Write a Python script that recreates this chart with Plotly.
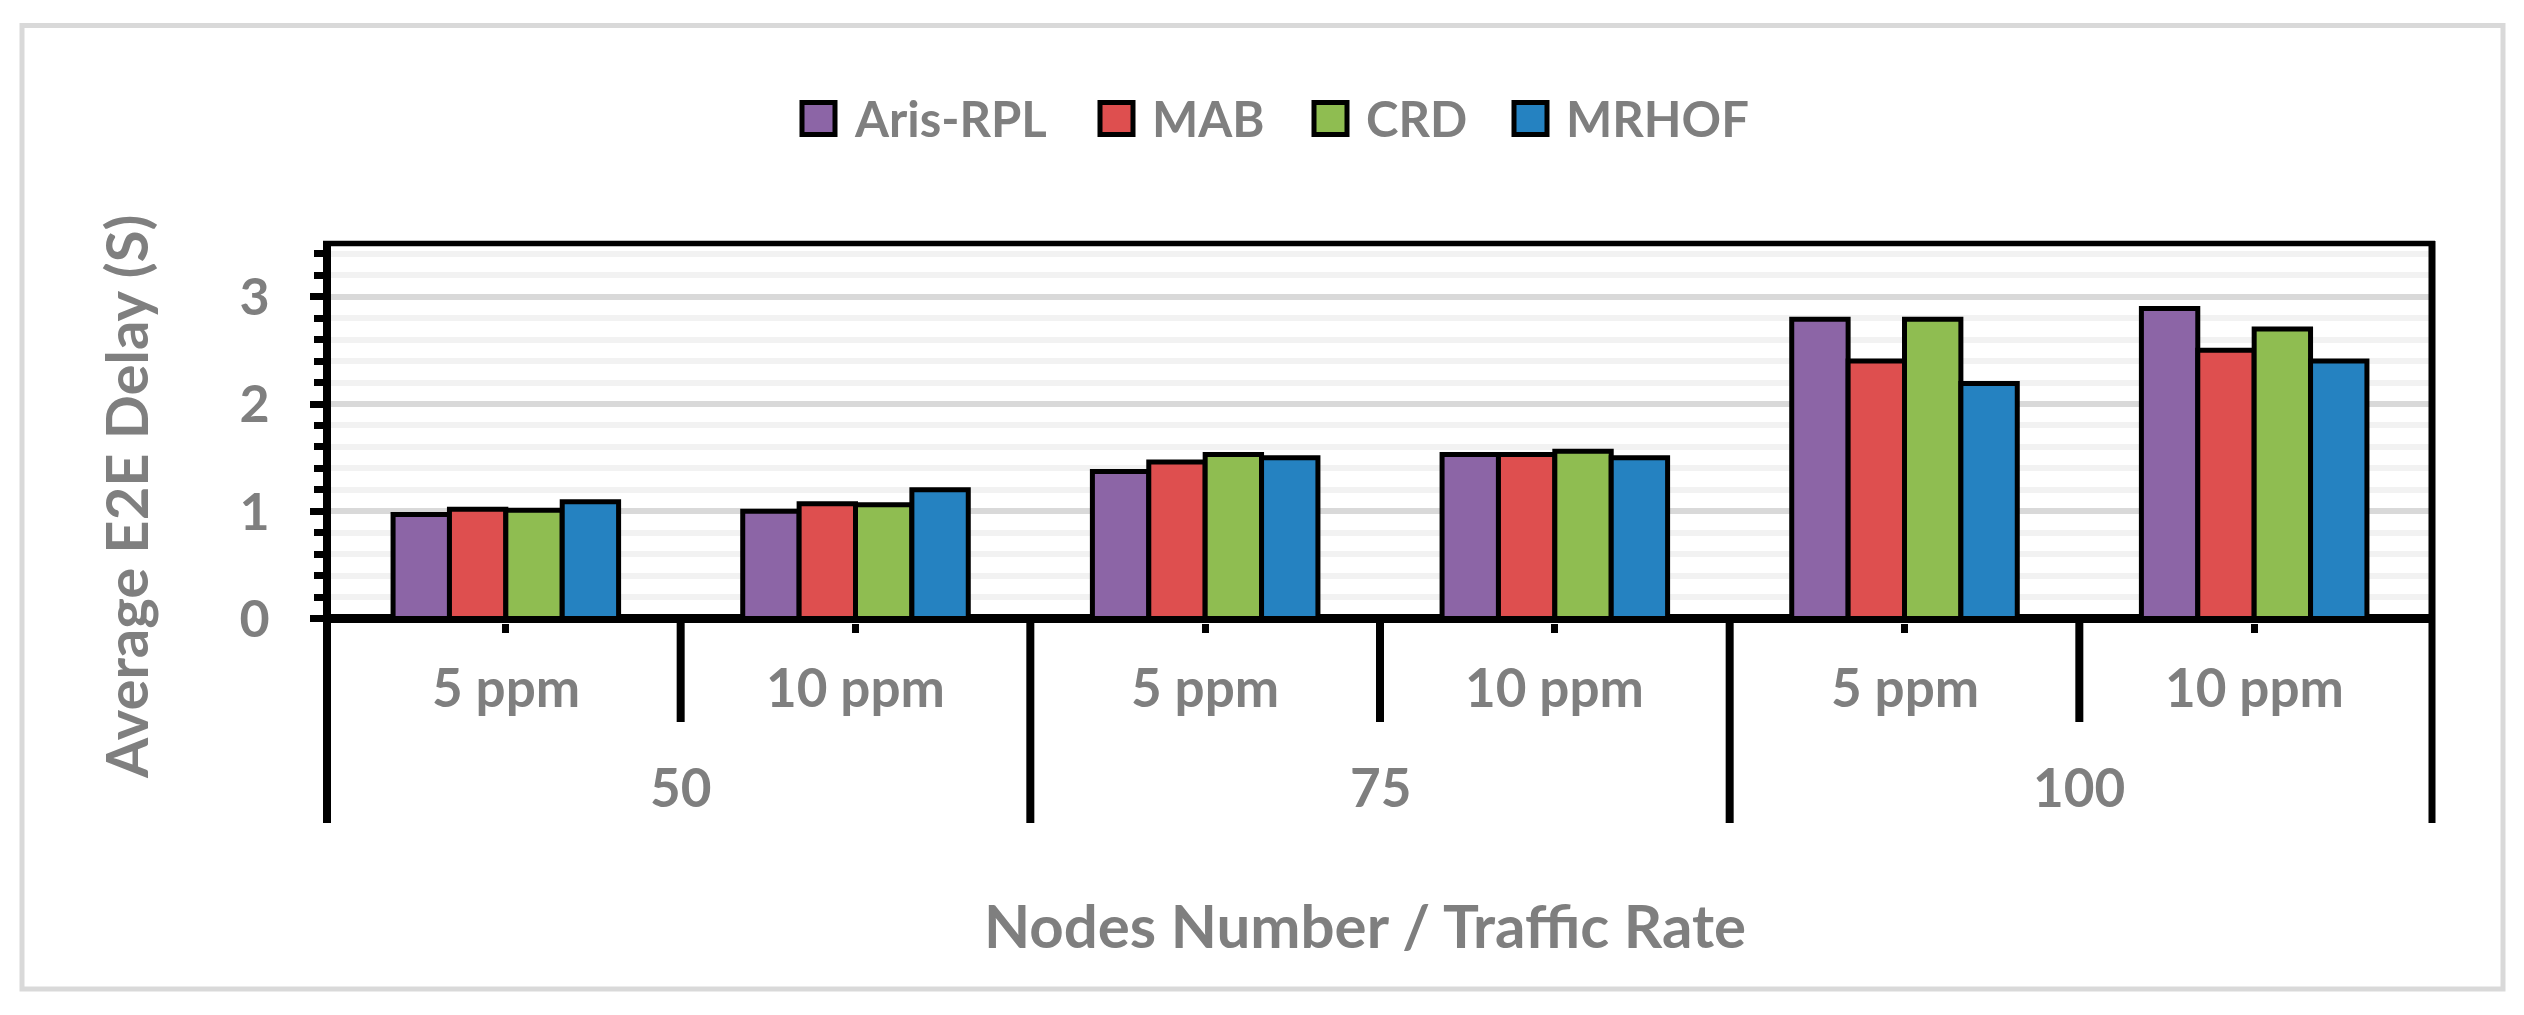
import plotly.graph_objects as go

# ---- data ----
nodes = ["50", "75", "100"]
rates = ["5 ppm", "10 ppm"]
series_names = ["Aris-RPL", "MAB", "CRD", "MRHOF"]
series_colors = ["#8C65A6", "#DE4F4F", "#8FBD51", "#2582C1"]
aris = [0.97, 1.00, 1.37, 1.53, 2.79, 2.89]
mab = [1.02, 1.07, 1.46, 1.53, 2.40, 2.50]
crd = [1.01, 1.06, 1.53, 1.56, 2.79, 2.70]
mrhof = [1.09, 1.20, 1.50, 1.50, 2.19, 2.40]
series_values = [aris, mab, crd, mrhof]
y_title = "Average E2E Delay (S)"
x_title = "Nodes Number / Traffic Rate"

categories = [f"{n}|{r}" for n in nodes for r in rates]

# ---- layout geometry (pixels) ----
W, H = 2524, 1015
L, R, T, B = 331, 2429, 244, 623
PW, PH = R - L, B - T
Y0PX = 618.6
UNIT = 107.3
GRAY = "#7F7F7F"
FONT = "Lato"


def px_x(p):
    return (p - L) / PW


def px_y(p):
    return (B - p) / PH


fig = go.Figure()
for name, color, vals in zip(series_names, series_colors, series_values):
    fig.add_trace(go.Bar(
        x=categories, y=vals, name=name,
        marker=dict(color=color, line=dict(color="black", width=5)),
        showlegend=False,
    ))

shapes = []
annotations = []

# outer light border
shapes.append(dict(type="rect", xref="paper", yref="paper",
                   x0=px_x(22), x1=px_x(2503), y0=px_y(25.5), y1=px_y(989),
                   line=dict(color="#D9D9D9", width=5), fillcolor="rgba(0,0,0,0)"))
# top border and right border of plot
shapes.append(dict(type="line", xref="paper", yref="paper",
                   x0=px_x(323), x1=px_x(2435), y0=px_y(243.5), y1=px_y(243.5),
                   line=dict(color="black", width=5.5)))
shapes.append(dict(type="line", xref="paper", yref="paper",
                   x0=px_x(2432), x1=px_x(2432), y0=px_y(241), y1=px_y(823),
                   line=dict(color="black", width=7)))
# left long divider (continuation of y axis line)
shapes.append(dict(type="line", xref="paper", yref="paper",
                   x0=px_x(327), x1=px_x(327), y0=px_y(618), y1=px_y(823),
                   line=dict(color="black", width=8)))
# major dividers between node groups
n_sub = len(rates)
for g in range(1, len(nodes)):
    xb = g * n_sub - 0.5
    shapes.append(dict(type="line", xref="x", yref="paper",
                       x0=xb, x1=xb, y0=px_y(618), y1=px_y(823),
                       line=dict(color="black", width=8)))
# minor dividers between rates inside a group
for g in range(len(nodes)):
    for s in range(1, n_sub):
        xb = g * n_sub + s - 0.5
        shapes.append(dict(type="line", xref="x", yref="paper",
                           x0=xb, x1=xb, y0=px_y(618), y1=px_y(722),
                           line=dict(color="black", width=8)))

# category labels
for i, c in enumerate(categories):
    annotations.append(dict(x=i, y=px_y(686), xref="x", yref="paper",
                            text=c.split("|")[1], showarrow=False,
                            font=dict(family=FONT, size=53, color=GRAY, weight="bold"),
                            xanchor="center", yanchor="middle"))
for g, n in enumerate(nodes):
    annotations.append(dict(x=g * n_sub + (n_sub - 1) / 2, y=px_y(786), xref="x", yref="paper",
                            text=n, showarrow=False,
                            font=dict(family=FONT, size=53, color=GRAY, weight="bold"),
                            xanchor="center", yanchor="middle"))

# axis titles
annotations.append(dict(x=px_x(1365), y=px_y(925), xref="paper", yref="paper",
                        text=x_title, showarrow=False,
                        font=dict(family=FONT, size=60, color=GRAY, weight="bold"),
                        xanchor="center", yanchor="middle"))
annotations.append(dict(x=px_x(125), y=px_y(497), xref="paper", yref="paper",
                        text=y_title, showarrow=False, textangle=-90,
                        font=dict(family=FONT, size=58, color=GRAY, weight="bold"),
                        xanchor="center", yanchor="middle"))

# legend (drawn manually to match large swatches)
legend_text_x = [852, 1150, 1364, 1564]
for name, color, tx in zip(series_names, series_colors, legend_text_x):
    shapes.append(dict(type="rect", xref="paper", yref="paper",
                       x0=px_x(tx - 50), x1=px_x(tx - 17), y0=px_y(102.5), y1=px_y(134.5),
                       line=dict(color="black", width=5), fillcolor=color))
    annotations.append(dict(x=px_x(tx), y=px_y(118), xref="paper", yref="paper",
                            text=name, showarrow=False,
                            font=dict(family=FONT, size=49, color=GRAY, weight="bold"),
                            xanchor="left", yanchor="middle"))

fig.update_layout(
    width=W, height=H,
    margin=dict(l=L, r=W - R, t=T, b=H - B, pad=0),
    paper_bgcolor="white", plot_bgcolor="white",
    barmode="group", bargap=0.355, bargroupgap=0,
    shapes=shapes, annotations=annotations,
    showlegend=False,
)
fig.update_xaxes(
    type="category", categoryorder="array", categoryarray=categories,
    showticklabels=False, showgrid=False, showline=False, zeroline=False,
    ticks="outside", ticklen=9, tickwidth=7, tickcolor="black",
)
fig.update_yaxes(
    range=[-(B - Y0PX) / UNIT, (Y0PX - T) / UNIT],
    tickmode="linear", tick0=0, dtick=1,
    ticks="outside", ticklen=13, tickwidth=6.5, tickcolor="black",
    showline=True, linecolor="black", linewidth=8,
    showgrid=True, gridcolor="#D9D9D9", gridwidth=5.5,
    zeroline=True, zerolinecolor="black", zerolinewidth=9,
    minor=dict(dtick=0.2, tick0=0, ticks="outside", ticklen=9, tickwidth=6.5, tickcolor="black",
               showgrid=True, gridcolor="#F2F2F2", gridwidth=5.5),
    tickfont=dict(family=FONT, size=52, color=GRAY, weight="bold"),
    ticklabelstandoff=30,
)

fig.write_html("out.html",
               config={"displayModeBar": False},
               post_script="document.body.style.margin='0px';document.body.style.overflow='hidden';")
